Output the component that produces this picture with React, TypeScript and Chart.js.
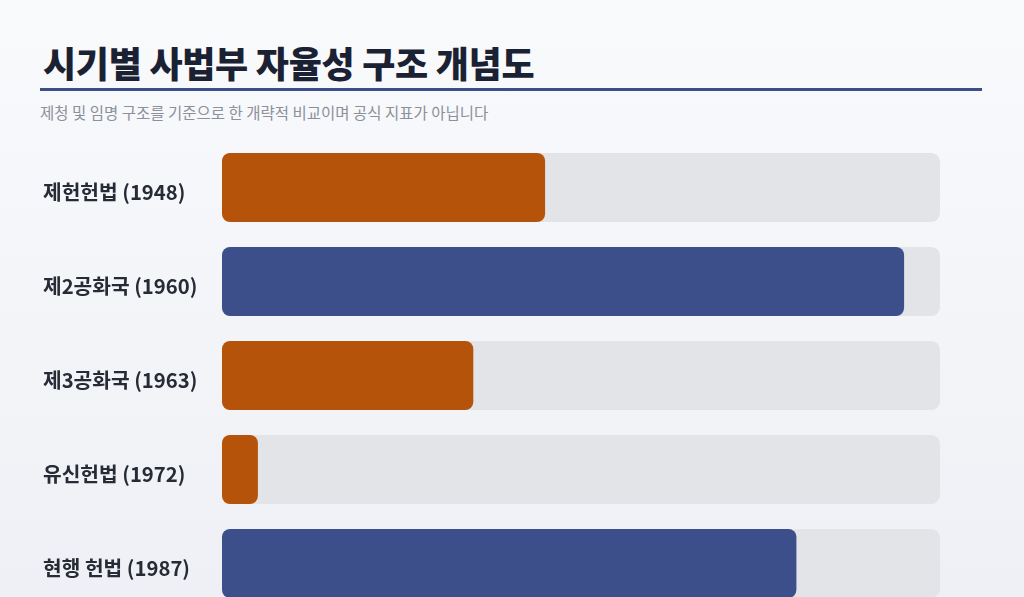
import React, { useEffect, useRef } from 'react';
import Chart from 'chart.js/auto';

const periods = ['제헌헌법 (1948)', '제2공화국 (1960)', '제3공화국 (1963)', '유신헌법 (1972)', '현행 헌법 (1987)'];
const autonomy = [45, 95, 35, 5, 80];
const trackMax = [100, 100, 100, 100, 100];
const barColors = ['#b45309', '#3c4f8a', '#b45309', '#b45309', '#3c4f8a'];

const FONT = '"Noto Sans CJK KR", "Noto Sans", sans-serif';

export default function App() {
  const canvasRef = useRef<HTMLCanvasElement | null>(null);

  useEffect(() => {
    document.body.style.margin = '0';
    const ctx = canvasRef.current!.getContext('2d');
    const chart = new Chart(ctx!, {
      type: 'bar',
      data: {
        labels: periods,
        datasets: [
          { label: '자율성', data: autonomy, backgroundColor: barColors, borderRadius: 8, borderSkipped: false, grouped: false, categoryPercentage: 1, barPercentage: 0.735 },
          { label: '기준', data: trackMax, backgroundColor: '#e2e4e8', borderRadius: 9, borderSkipped: false, grouped: false, categoryPercentage: 1, barPercentage: 0.735 },
        ],
      },
      options: {
        indexAxis: 'y',
        animation: false,
        responsive: true,
        maintainAspectRatio: false,
        layout: { padding: { left: 43, right: 84, top: 20.5, bottom: 19.5 } },
        plugins: { legend: { display: false }, tooltip: { enabled: false } },
        scales: {
          x: { display: false, min: 0, max: 100 },
          y: {
            grid: { display: false },
            border: { display: false },
            afterFit: (scale: any) => { scale.width = 179; },
            ticks: { crossAlign: 'far', labelOffset: 5, color: '#262b36', font: { family: FONT, size: 20.3, weight: 'bold' } },
          },
        },
      },
    });
    return () => { chart.destroy(); };
  }, []);

  return (
    <div style={{ position: 'relative', width: 1024, height: 597, overflow: 'hidden', background: 'linear-gradient(#f9fafc, #eef0f5)', fontFamily: FONT }}>
      <div style={{ position: 'absolute', left: 43, top: 42, fontSize: 36, lineHeight: '40px', fontWeight: 900, color: '#1a2132', letterSpacing: '-0.3px', whiteSpace: 'nowrap' }}>
        시기별 사법부 자율성 구조 개념도
      </div>
      <div style={{ position: 'absolute', left: 40, top: 88, width: 942, height: 3, background: '#3c4f8a' }} />
      <div style={{ position: 'absolute', left: 40, top: 101, fontSize: 15.5, lineHeight: '22px', color: '#8b909a', whiteSpace: 'nowrap' }}>
        제청 및 임명 구조를 기준으로 한 개략적 비교이며 공식 지표가 아닙니다
      </div>
      <div style={{ position: 'absolute', left: 0, top: 120, width: 1024, height: 510 }}>
        <canvas ref={canvasRef}></canvas>
      </div>
    </div>
  );
}
